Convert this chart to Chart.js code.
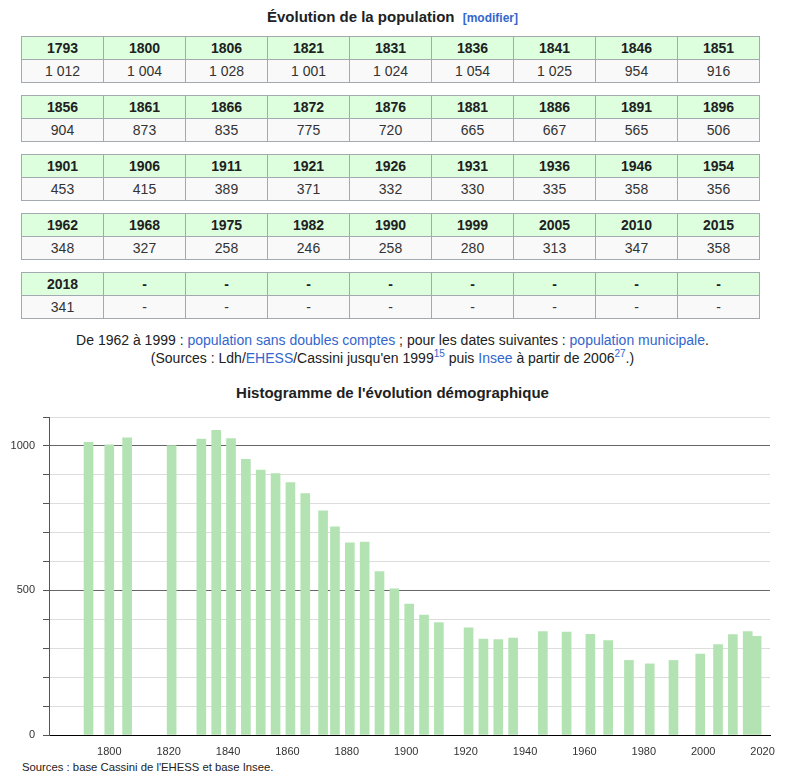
<!DOCTYPE html>
<html lang="fr">
<head>
<meta charset="utf-8">
<title>Évolution de la population</title>
<script src="https://cdn.jsdelivr.net/npm/chart.js@4.4.1/dist/chart.umd.min.js"></script>
<style>
  body { margin: 0; background: #fff; font-family: "Liberation Sans", Arial, sans-serif; color: #202122; }
  .abs { position: absolute; }
  #titre { top: 8px; left: 0; width: 785px; text-align: center; font-size: 15px; font-weight: bold; }
  #titre a { font-size: 12px; color: #3366cc; text-decoration: none; margin-left: 4px; }
  #tables { top: 36px; left: 21px; width: 739px; }
  table { border-collapse: collapse; table-layout: fixed; width: 739px; margin-bottom: 12px; }
  td, th { border: 1px solid #a2a9b1; height: 22px; padding: 0; text-align: center; font-size: 14px; }
  th { background: #ddffdd; font-weight: bold; }
  td { background: #f9f9f9; color: #333; }
  #notes { top: 331px; left: 0; width: 785px; text-align: center; font-size: 14px; line-height: 18px; }
  #notes a { color: #3366cc; text-decoration: none; }
  #notes sup { font-size: 10px; line-height: 0; }
  #titreHisto { top: 384px; left: 0; width: 785px; text-align: center; font-size: 15px; font-weight: bold; }
  #histo { top: 400px; left: 0; }
  #sources { top: 761px; left: 22px; font-size: 11.3px; color: #222; }
</style>
</head>
<body>
<div id="titre" class="abs">Évolution de la population <a href="#">[modifier]</a></div>
<div id="tables" class="abs"></div>
<div id="notes" class="abs">
  De 1962 à 1999 : <a href="#">population sans doubles comptes</a> ; pour les dates suivantes : <a href="#">population municipale</a>.<br>
  (Sources : Ldh/<a href="#">EHESS</a>/Cassini jusqu'en 1999<sup><a href="#">15</a></sup> puis <a href="#">Insee</a> à partir de 2006<sup><a href="#">27</a></sup>.)
</div>
<div id="titreHisto" class="abs">Histogramme de l'évolution démographique</div>
<canvas id="histo" class="abs" width="785" height="360"></canvas>
<div id="sources" class="abs">Sources : base Cassini de l'EHESS et base Insee.</div>
<script>
const annees = [1793, 1800, 1806, 1821, 1831, 1836, 1841, 1846, 1851,
    1856, 1861, 1866, 1872, 1876, 1881, 1886, 1891, 1896,
    1901, 1906, 1911, 1921, 1926, 1931, 1936, 1946, 1954,
    1962, 1968, 1975, 1982, 1990, 1999, 2005, 2010, 2015,
    2018];
const population = [1012, 1004, 1028, 1001, 1024, 1054, 1025, 954, 916,
    904, 873, 835, 775, 720, 665, 667, 565, 506,
    453, 415, 389, 371, 332, 330, 335, 358, 356,
    348, 327, 258, 246, 258, 280, 313, 347, 358,
    341];
const xTicks = [1800, 1820, 1840, 1860, 1880, 1900, 1920, 1940, 1960, 1980, 2000, 2020];
const yLabels = [0, 500, 1000];

// format francais : 1 012
function fmt(n) {
    if (n < 1000) return String(n);
    return Math.floor(n / 1000) + '\u00a0' + String(n % 1000).padStart(3, '0');
}

// tableaux de 9 colonnes
const parLigne = 9;
let html = '';
for (let i = 0; i < annees.length; i += parLigne) {
    let h = '<tr>', v = '<tr>';
    for (let j = i; j < i + parLigne; j++) {
        if (j < annees.length) {
            h += '<th>' + annees[j] + '</th>';
            v += '<td>' + fmt(population[j]) + '</td>';
        } else {
            h += '<th>-</th>';
            v += '<td>-</td>';
        }
    }
    html += '<table>' + h + '</tr>' + v + '</tr></table>';
}
document.getElementById('tables').innerHTML = html;

const police = { family: "'Liberation Sans', Arial, sans-serif", size: 11 };

new Chart(document.getElementById('histo'), {
    type: 'bar',
    data: {
        datasets: [{
            data: annees.map((a, i) => ({ x: a, y: population[i] })),
            backgroundColor: '#b3e3b3',
            barThickness: 9,
            borderWidth: 0,
        }]
    },
    options: {
        responsive: false,
        animation: false,
        layout: { padding: { top: 17, right: 15, left: 0, bottom: 0 } },
        plugins: {
            legend: { display: false },
            tooltip: { enabled: false },
        },
        scales: {
            x: {
                type: 'linear',
                min: 1779.7,
                max: 2022.5,
                offset: false,
                grid: { display: false, offset: false },
                border: { color: '#000', width: 1 },
                afterBuildTicks: (s) => { s.ticks = xTicks.map(v => ({ value: v })); },
                afterFit: (s) => { s.height = 25; },
                ticks: {
                    callback: (v) => String(v),
                    font: police,
                    color: '#333',
                    padding: 2,
                    maxRotation: 0,
                    autoSkip: false,
                },
            },
            y: {
                min: 0,
                max: 1100,
                afterFit: (s) => { s.width = 49; },
                ticks: {
                    stepSize: 100,
                    callback: (v) => yLabels.includes(v) ? String(v) : '',
                    font: police,
                    color: '#333',
                    padding: 8,
                },
                grid: {
                    color: (ctx) => {
                        const v = ctx.tick ? ctx.tick.value : 1;
                        if (v === 0) return '#000';
                        if (v % 500 === 0) return '#666';
                        return '#dddddd';
                    },
                    tickColor: '#555',
                    tickLength: 6,
                },
                border: { color: '#555', width: 1 },
            }
        }
    }
});
</script>
</body>
</html>
